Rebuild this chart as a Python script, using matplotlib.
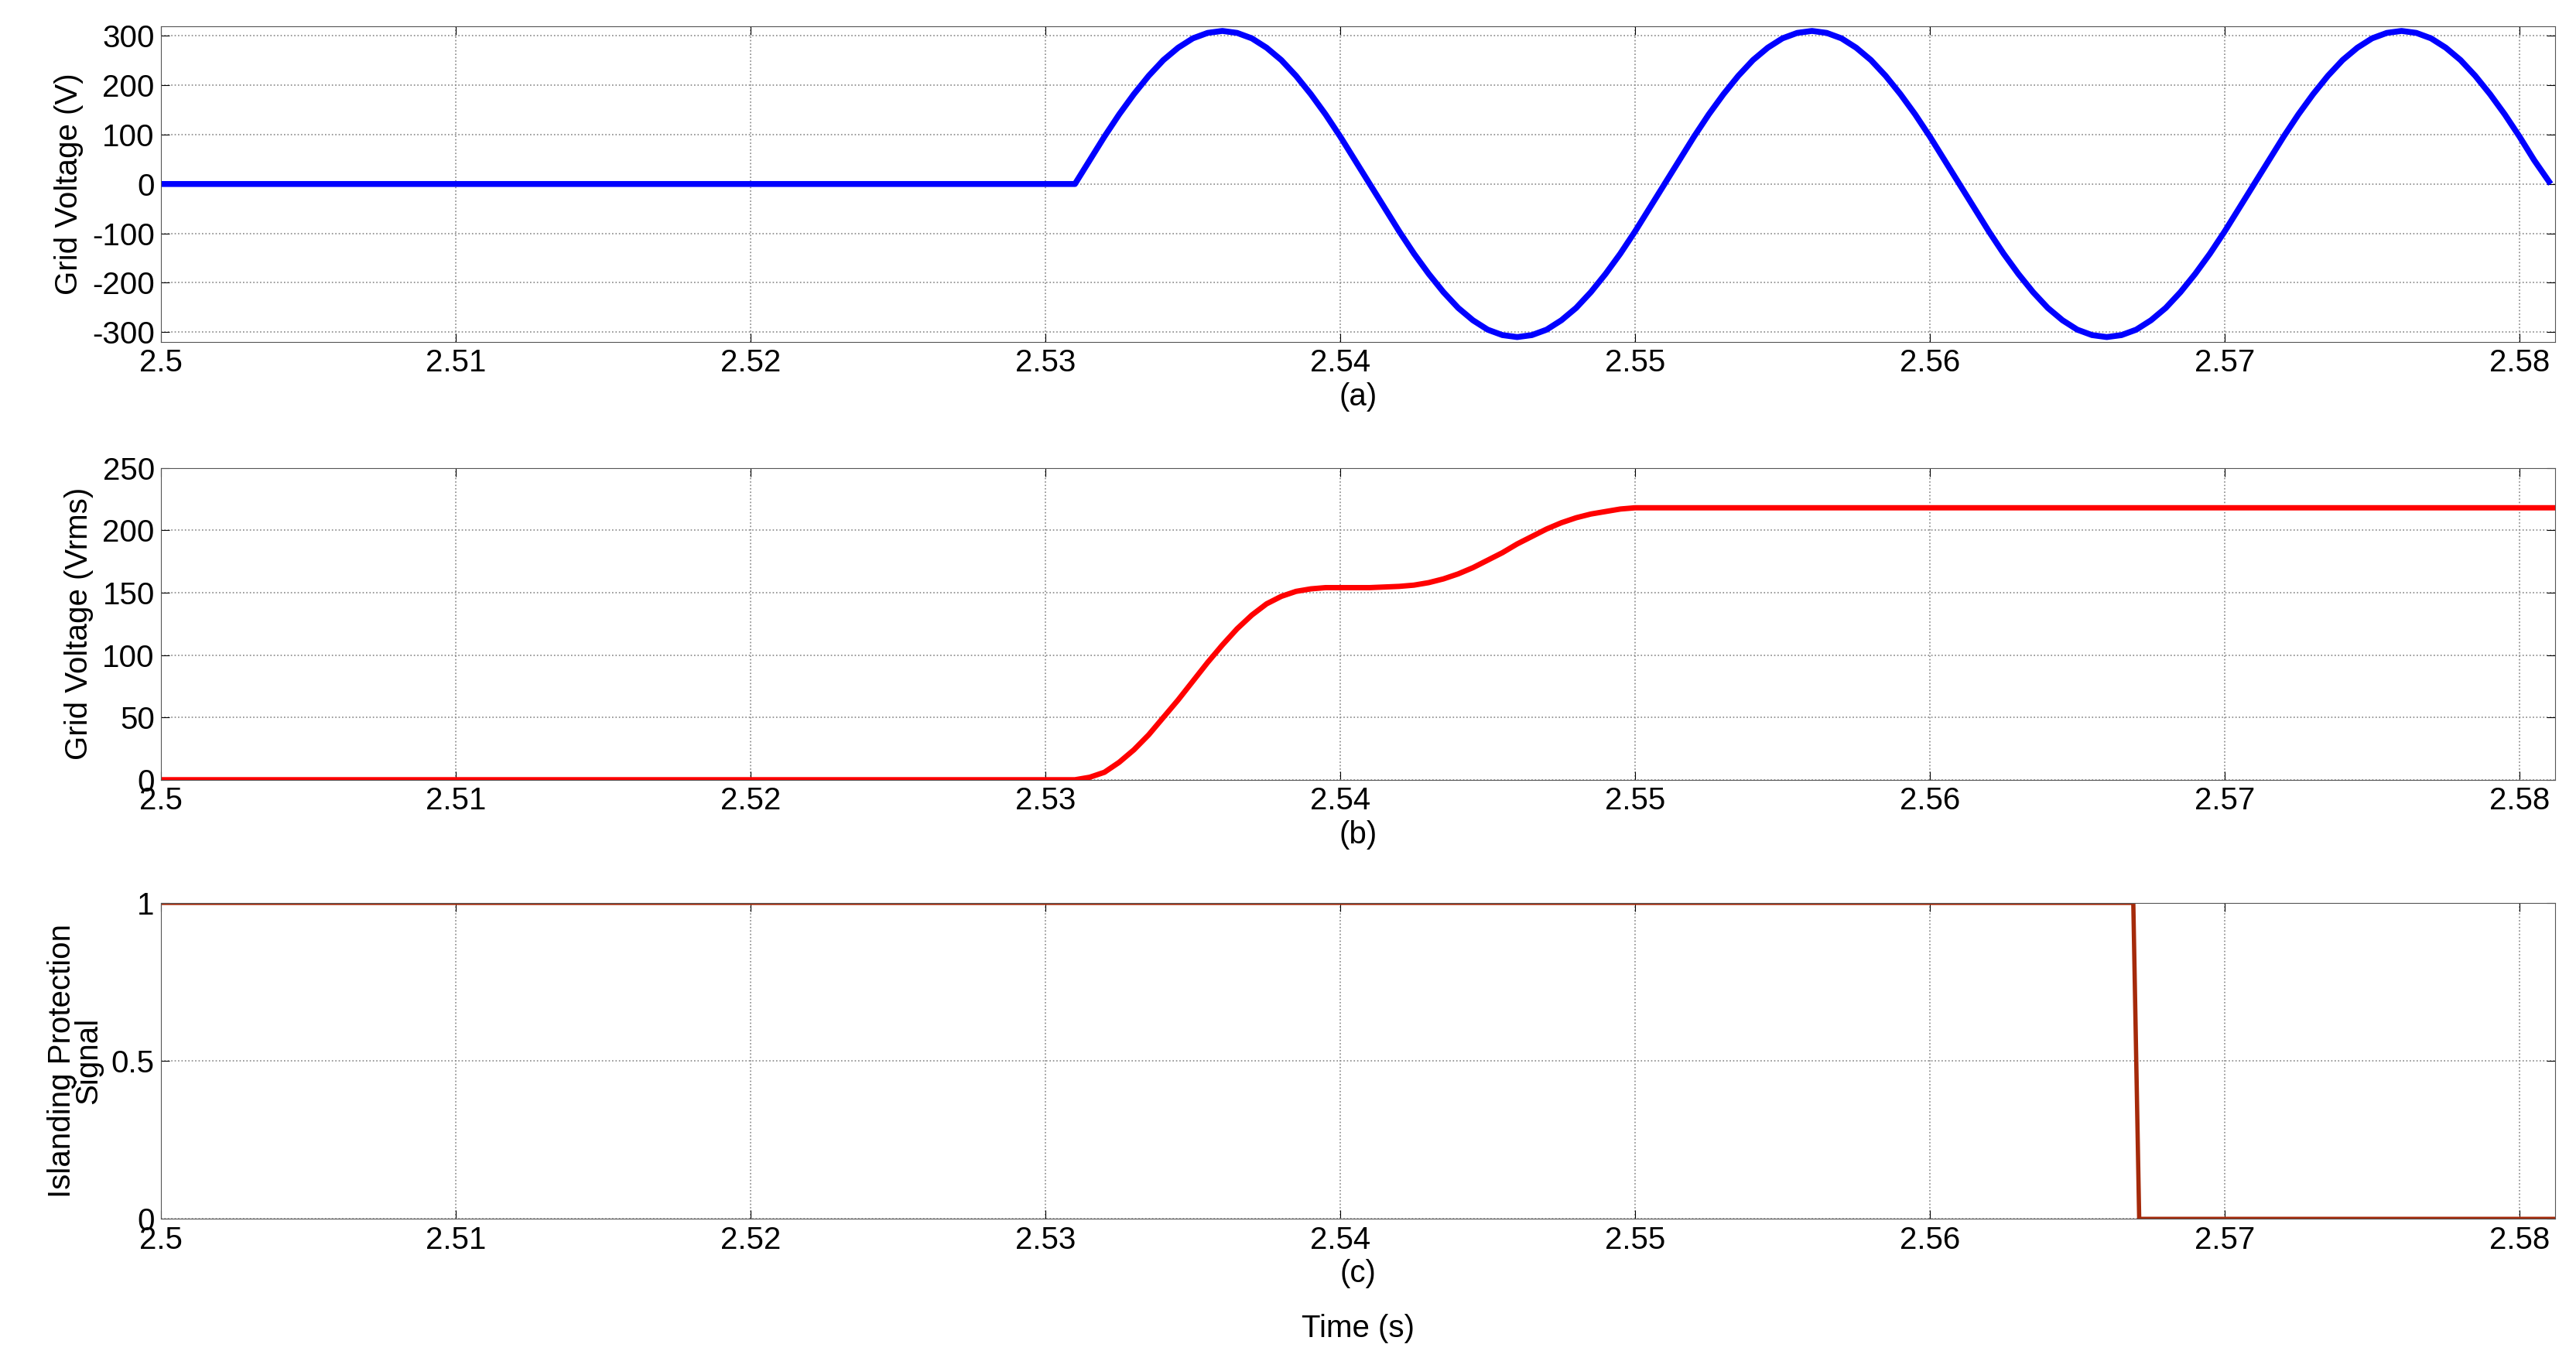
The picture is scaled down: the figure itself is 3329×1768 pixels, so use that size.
import numpy as np
import matplotlib
matplotlib.use("Agg")
import matplotlib.pyplot as plt

plt.rcParams['font.family'] = ['Liberation Sans', 'DejaVu Sans']
plt.rcParams['axes.unicode_minus'] = False

# (a) instantaneous grid voltage, sampled every 0.5 ms after 2.531 s
t_a = [2.500, 2.531] + [round(2.531 + 0.0005 * i, 4) for i in range(1, 101)]
v_a = [0, 0,
       48, 96, 141, 182, 219, 251, 276, 295, 306, 310, 306, 295, 276, 251, 219, 182, 141, 96, 48, 0,
       -48, -96, -141, -182, -219, -251, -276, -295, -306, -310, -306, -295, -276, -251, -219, -182, -141, -96, -48, 0,
       48, 96, 141, 182, 219, 251, 276, 295, 306, 310, 306, 295, 276, 251, 219, 182, 141, 96, 48, 0,
       -48, -96, -141, -182, -219, -251, -276, -295, -306, -310, -306, -295, -276, -251, -219, -182, -141, -96, -48, 0,
       48, 96, 141, 182, 219, 251, 276, 295, 306, 310, 306, 295, 276, 251, 219, 182, 141, 96, 48, 5]

# (b) rms grid voltage
t_b = [2.500, 2.531, 2.5315, 2.532, 2.5325, 2.533, 2.5335, 2.534, 2.5345, 2.535,
       2.5355, 2.536, 2.5365, 2.537, 2.5375, 2.538, 2.5385, 2.539, 2.5395, 2.540,
       2.541, 2.542, 2.5425, 2.543, 2.5435, 2.544, 2.5445, 2.545, 2.5455, 2.546,
       2.5465, 2.547, 2.5475, 2.548, 2.5485, 2.549, 2.5495, 2.550, 2.5812]
v_b = [0, 0, 2, 6, 14, 24, 36, 50, 64, 79,
       94, 108, 121, 132, 141, 147, 151, 153, 154, 154,
       154, 155, 156, 158, 161, 165, 170, 176, 182, 189,
       195, 201, 206, 210, 213, 215, 217, 218, 218]

# (c) islanding protection signal
t_c = [2.500, 2.5669, 2.5671, 2.5812]
s_c = [1, 1, 0, 0]

xticks = [2.5, 2.51, 2.52, 2.53, 2.54, 2.55, 2.56, 2.57, 2.58]
xticklabels = ['2.5', '2.51', '2.52', '2.53', '2.54', '2.55', '2.56', '2.57', '2.58']

fig = plt.figure(figsize=(33.3, 17.68), dpi=100)
L, W = 0.0625, 0.929
ax1 = fig.add_axes([L, 0.750, W, 0.231])
ax2 = fig.add_axes([L, 0.430, W, 0.228])
ax3 = fig.add_axes([L, 0.109, W, 0.231])

fs = 29
def style(ax, lab, yl):
    ax.set_xlim(2.5, 2.5812)
    ax.set_xticks(xticks)
    ax.set_xticklabels(xticklabels)
    ax.grid(True, linestyle=':', color='#888888', linewidth=1.2)
    ax.tick_params(labelsize=fs, direction='in', length=8, top=True, right=True, pad=6)
    ax.set_xlabel(lab, fontsize=fs, labelpad=4)
    ax.set_ylabel(yl, fontsize=fs, labelpad=8)
    for s in ax.spines.values():
        s.set_color('#555555')

ax1.plot(t_a, v_a, color='#0000ff', linewidth=5.5)
ax1.set_ylim(-320, 320)
ax1.set_yticks([-300, -200, -100, 0, 100, 200, 300])
style(ax1, '(a)', 'Grid Voltage (V)')

ax2.plot(t_b, v_b, color='#ff0000', linewidth=5)
ax2.set_ylim(0, 250)
ax2.set_yticks([0, 50, 100, 150, 200, 250])
style(ax2, '(b)', 'Grid Voltage (Vrms)')

ax3.plot(t_c, s_c, color='#a52a0a', linewidth=4)
ax3.set_ylim(0, 1)
ax3.set_yticks([0, 0.5, 1])
ax3.set_yticklabels(['0', '0.5', '1'])
style(ax3, '(c)', 'Islanding Protection\nSignal')
ax3.yaxis.label.set_linespacing(0.85)
fig.text(L + W / 2, 0.018, 'Time (s)', ha='center', va='bottom', fontsize=fs)

fig.savefig('out.png', dpi=100)
